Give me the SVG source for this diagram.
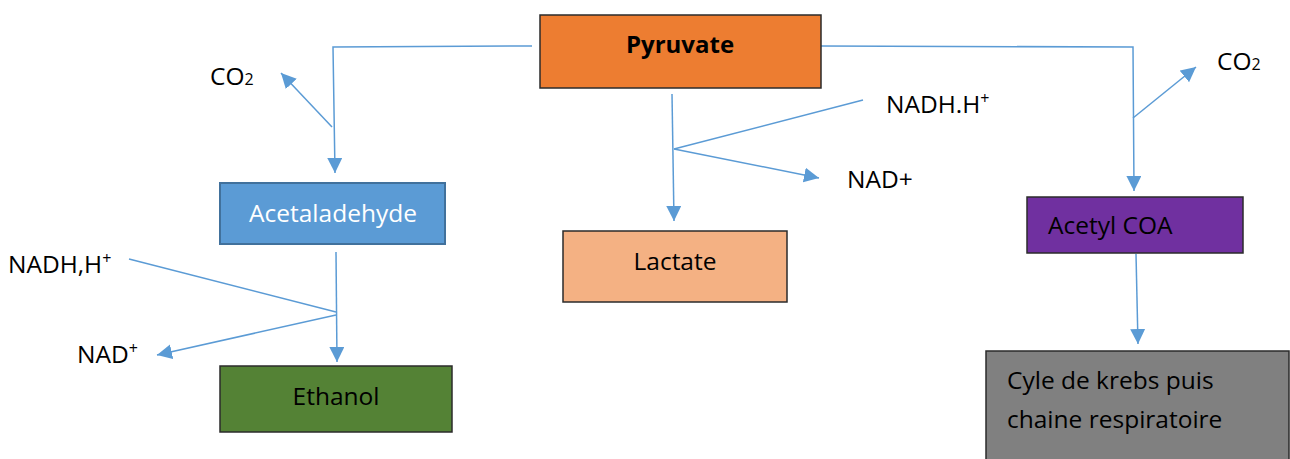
<svg xmlns="http://www.w3.org/2000/svg" width="1290" height="459" viewBox="0 0 1290 459">
<style>
  .t { font-family: "Open Sans", "Liberation Sans", sans-serif; font-size: 24.5px; fill: #000; }
  .c { stroke: #5B9BD5; stroke-width: 1.5; fill: none; }
  .box { stroke: #2b2b2b; stroke-width: 1.5; }
</style>
<defs>
  <marker id="arr" markerUnits="userSpaceOnUse" markerWidth="17" markerHeight="16" refX="15" refY="7.5" orient="auto">
    <path d="M0,0 L15,7.5 L0,15 z" fill="#5B9BD5"/>
  </marker>
</defs>
<rect width="1290" height="459" fill="#fff"/>

<g id="connectors">
  <polyline class="c" points="532,46 333,47 335,173" marker-end="url(#arr)"/>
  <line class="c" x1="332" y1="127" x2="281" y2="73" marker-end="url(#arr)"/>
  <line class="c" x1="672" y1="94" x2="674" y2="221" marker-end="url(#arr)"/>
  <line class="c" x1="863" y1="100" x2="674" y2="149"/>
  <line class="c" x1="674" y1="149" x2="819" y2="178" marker-end="url(#arr)"/>
  <polyline class="c" points="821,46 1133,47 1134,191" marker-end="url(#arr)"/>
  <line class="c" x1="1133" y1="118" x2="1196" y2="67" marker-end="url(#arr)"/>
  <line class="c" x1="1136" y1="254" x2="1138" y2="344" marker-end="url(#arr)"/>
  <line class="c" x1="336" y1="252" x2="337" y2="362" marker-end="url(#arr)"/>
  <line class="c" x1="129" y1="259" x2="336" y2="312"/>
  <line class="c" x1="336" y1="315" x2="157" y2="355" marker-end="url(#arr)"/>
</g>

<g id="pyruvate">
  <rect class="box" x="540" y="15" width="281" height="73" fill="#ED7D31"/>
  <text class="t" x="680" y="53" text-anchor="middle" font-weight="bold" style="font-size:24px">Pyruvate</text>
</g>
<g id="acetaladehyde">
  <rect x="220" y="183" width="225" height="61" fill="#5B9BD5" stroke="#41719C" stroke-width="2"/>
  <text class="t" x="333" y="222" text-anchor="middle" style="fill:#fff">Acetaladehyde</text>
</g>
<g id="ethanol">
  <rect class="box" x="220" y="366" width="232" height="66" fill="#548235"/>
  <text class="t" x="336" y="405" text-anchor="middle">Ethanol</text>
</g>
<g id="lactate">
  <rect class="box" x="563" y="231" width="224" height="71" fill="#F4B183"/>
  <text class="t" x="675" y="270" text-anchor="middle">Lactate</text>
</g>
<g id="acetylcoa">
  <rect class="box" x="1027" y="197" width="216" height="56" fill="#7030A0"/>
  <text class="t" x="1048" y="234">Acetyl COA</text>
</g>
<g id="krebs">
  <rect class="box" x="986" y="351" width="303" height="115" fill="#808080"/>
  <text class="t" x="1007" y="389">Cyle de krebs puis</text>
  <text class="t" x="1007" y="428">chaine respiratoire</text>
</g>

<g id="labels">
  <text class="t" x="210" y="85">CO<tspan font-size="16">2</tspan></text>
  <text class="t" x="1217" y="70">CO<tspan font-size="16">2</tspan></text>
  <text class="t" x="886" y="113">NADH.H<tspan font-size="16" dy="-9">+</tspan></text>
  <text class="t" x="847" y="188">NAD+</text>
  <text class="t" x="8" y="273">NADH,H<tspan font-size="16" dy="-9">+</tspan></text>
  <text class="t" x="77" y="363">NAD<tspan font-size="16" dy="-9">+</tspan></text>
</g>
</svg>
